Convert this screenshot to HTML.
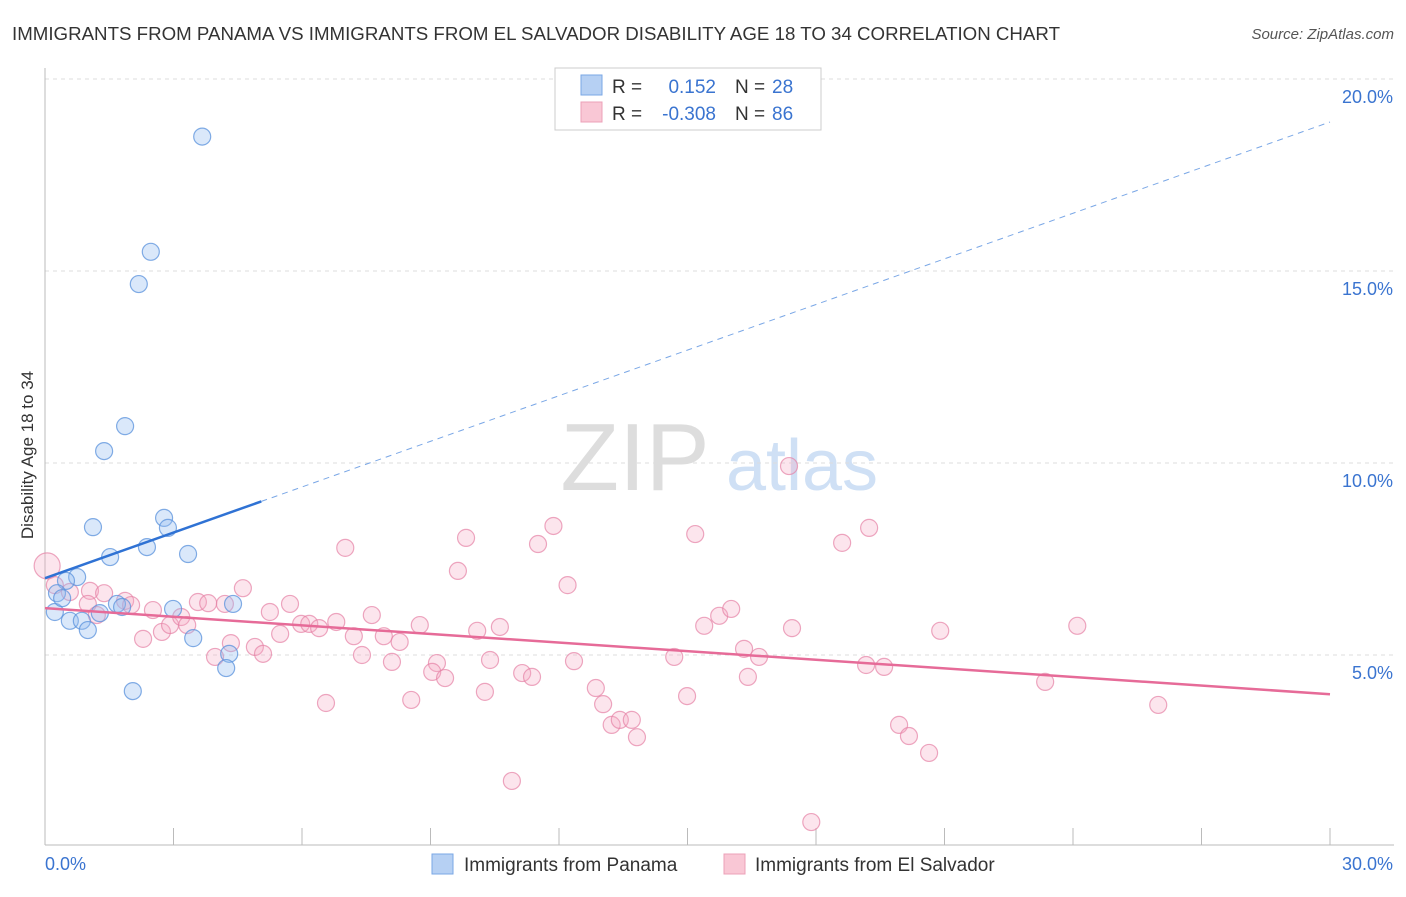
<!DOCTYPE html>
<html><head><meta charset="utf-8"><style>
body{margin:0;background:#fff;font-family:"Liberation Sans",sans-serif}
svg text{font-family:"Liberation Sans",sans-serif}
</style></head><body>
<svg id="chart" width="1406" height="892">
<text x="12" y="40" font-size="18" fill="#333" textLength="1048" lengthAdjust="spacingAndGlyphs">IMMIGRANTS FROM PANAMA VS IMMIGRANTS FROM EL SALVADOR DISABILITY AGE 18 TO 34 CORRELATION CHART</text>
<text x="1394" y="39" font-size="15" fill="#555" text-anchor="end" font-style="italic">Source: ZipAtlas.com</text>
<g>
<text x="635" y="490" font-size="96" fill="#ddd" font-family="Liberation Serif" text-anchor="middle">ZIP</text>
<text x="802" y="490" font-size="72" fill="#cfe0f5" text-anchor="middle">atlas</text>
</g>
<g id="grid"></g>
<g id="axes"></g>
<g id="marks"></g>
<text transform="translate(33,455) rotate(-90)" font-size="17" fill="#333" text-anchor="middle">Disability Age 18 to 34</text>
<g>
<rect x="555" y="68" width="266" height="62" fill="#fff" stroke="#ccc"/>
<rect x="581" y="75" width="21" height="20" fill="#b6d0f3" stroke="#7aa7e6"/>
<rect x="581" y="102" width="21" height="20" fill="#f9c7d5" stroke="#eca0b8"/>
<text x="612" y="93" font-size="19" fill="#333">R =</text>
<text x="716" y="93" font-size="19" fill="#3a74d0" text-anchor="end">0.152</text>
<text x="735" y="93" font-size="19" fill="#333">N =</text>
<text x="772" y="93" font-size="19" fill="#3a74d0">28</text>
<text x="612" y="120" font-size="19" fill="#333">R =</text>
<text x="716" y="120" font-size="19" fill="#3a74d0" text-anchor="end">-0.308</text>
<text x="735" y="120" font-size="19" fill="#333">N =</text>
<text x="772" y="120" font-size="19" fill="#3a74d0">86</text>
</g>
<g>
<rect x="432" y="854" width="21" height="20" fill="#b6d0f3" stroke="#7aa7e6"/>
<text x="464" y="871" font-size="19" fill="#333">Immigrants from Panama</text>
<rect x="724" y="854" width="21" height="20" fill="#f9c7d5" stroke="#eca0b8"/>
<text x="755" y="871" font-size="19" fill="#333">Immigrants from El Salvador</text>
</g>
</svg>
<script>
const yTicks=[5,10,15,20];
const yTickLabels=["5.0%","10.0%","15.0%","20.0%"];
const xTicks=[0,3,6,9,12,15,18,21,24,27,30];
const xEndLabels=["0.0%","30.0%"];
const panamaX=[3.67,2.47,2.19,1.87,1.38,1.12,2.78,2.87,2.38,1.52,3.34,0.75,0.49,0.28,0.23,0.40,1.68,1.80,1.28,2.99,4.39,0.58,0.86,1.0,3.46,4.30,4.23,2.05];
const panamaY=[18.5,15.5,14.66,10.96,10.31,8.33,8.57,8.31,7.81,7.55,7.63,7.03,6.93,6.61,6.12,6.48,6.33,6.25,6.09,6.20,6.33,5.89,5.89,5.65,5.44,5.03,4.66,4.06];
const salvX=[0.05,0.23,0.58,1.05,1.38,1.0,1.21,1.87,2.01,2.52,2.29,2.73,2.92,3.18,3.32,3.57,3.81,4.20,4.62,4.34,3.97,4.90,5.09,5.25,5.49,5.72,5.98,6.17,6.40,6.80,7.01,6.56,7.21,7.40,7.63,7.91,8.28,8.10,8.75,8.55,9.15,9.04,9.34,9.83,9.64,10.09,10.27,10.39,10.62,11.14,11.37,10.90,11.51,11.87,12.20,12.35,12.86,13.03,13.23,13.42,13.70,13.82,14.69,14.99,15.18,15.39,15.74,16.02,16.32,16.67,16.41,17.37,17.44,17.89,18.61,19.24,19.17,19.59,19.94,20.17,20.64,20.90,23.35,24.10,25.99];
const salvY=[7.32,6.82,6.64,6.67,6.61,6.33,6.04,6.41,6.30,6.17,5.42,5.60,5.78,5.99,5.78,6.38,6.35,6.33,6.74,5.31,4.95,5.21,5.03,6.12,5.55,6.33,5.81,5.81,5.70,5.86,7.79,3.75,5.49,5.0,6.04,5.49,5.34,4.82,5.78,3.83,4.79,4.56,4.40,8.05,7.19,5.63,4.04,4.87,5.73,4.53,4.43,1.72,7.89,8.36,6.82,4.84,4.14,3.72,3.18,3.31,3.31,2.86,4.95,3.93,8.15,5.76,6.02,6.20,5.16,4.95,4.43,9.92,5.70,0.65,7.92,8.31,4.74,4.69,3.18,2.89,2.45,5.63,4.30,5.76,3.70];
const panamaTrend=[7.0,0.396]; // intercept, slope
const salvTrend=[6.22,-0.0747];
const panamaSolidEnd=5.05;

const NS="http://www.w3.org/2000/svg";
const X=v=>45+v*(1285/30);
const Y=v=>847-v*38.4;
function mk(tag,attrs,parent){const e=document.createElementNS(NS,tag);for(const k in attrs)e.setAttribute(k,attrs[k]);parent.appendChild(e);return e;}
const grid=document.getElementById('grid'),axes=document.getElementById('axes'),marks=document.getElementById('marks');
yTicks.forEach((t,i)=>{
 const l=mk('line',{x1:45,x2:1394,y1:Y(t),y2:Y(t),stroke:'#ddd','stroke-dasharray':'4,4'},grid);
 
 
 const tx=mk('text',{x:1393,y:Y(t)+24,'font-size':18,fill:'#3a74d0','text-anchor':'end'},axes);
 tx.textContent=yTickLabels[i];
 
 
});
const topG=mk('line',{x1:45,x2:1394,y1:Y(20),y2:Y(20),stroke:'#ddd','stroke-dasharray':'4,4'},grid);


const ax=mk('line',{x1:45,x2:1394,y1:845,y2:845,stroke:'#bbb'},axes);


const ay=mk('line',{x1:45,x2:45,y1:68,y2:845,stroke:'#bbb'},axes);


xTicks.forEach(t=>{
 const l=mk('line',{x1:X(t),x2:X(t),y1:828,y2:845,stroke:'#bbb'},axes);
 
 
});
const xl0=mk('text',{x:45,y:870,'font-size':18,fill:'#3a74d0'},axes);xl0.textContent=xEndLabels[0];


const xl1=mk('text',{x:1393,y:870,'font-size':18,fill:'#3a74d0','text-anchor':'end'},axes);xl1.textContent=xEndLabels[1];


salvX.forEach((v,i)=>{
 const c=mk('circle',{cx:X(v),cy:Y(salvY[i]),r:i==0?13:8.5,fill:'rgba(245,170,195,0.3)',stroke:'rgba(230,130,165,0.7)','stroke-width':1.2},marks);
 
 
});
panamaX.forEach((v,i)=>{
 const c=mk('circle',{cx:X(v),cy:Y(panamaY[i]),r:8.5,fill:'rgba(150,190,240,0.35)',stroke:'rgba(90,145,220,0.75)','stroke-width':1.2},marks);
 
 
});
const pt=v=>panamaTrend[0]+panamaTrend[1]*v, st=v=>salvTrend[0]+salvTrend[1]*v;
const l1=mk('line',{x1:X(0),y1:Y(pt(0)),x2:X(panamaSolidEnd),y2:Y(pt(panamaSolidEnd)),stroke:'#2f72d4','stroke-width':2.5},marks);


const l2=mk('line',{x1:X(panamaSolidEnd),y1:Y(pt(panamaSolidEnd)),x2:X(30),y2:Y(pt(30)),stroke:'#7aa7e6','stroke-width':1,'stroke-dasharray':'6,5'},marks);


const l3=mk('line',{x1:X(0),y1:Y(st(0)),x2:X(30),y2:Y(st(30)),stroke:'#e66b98','stroke-width':2.5},marks);


</script>
</body></html>
